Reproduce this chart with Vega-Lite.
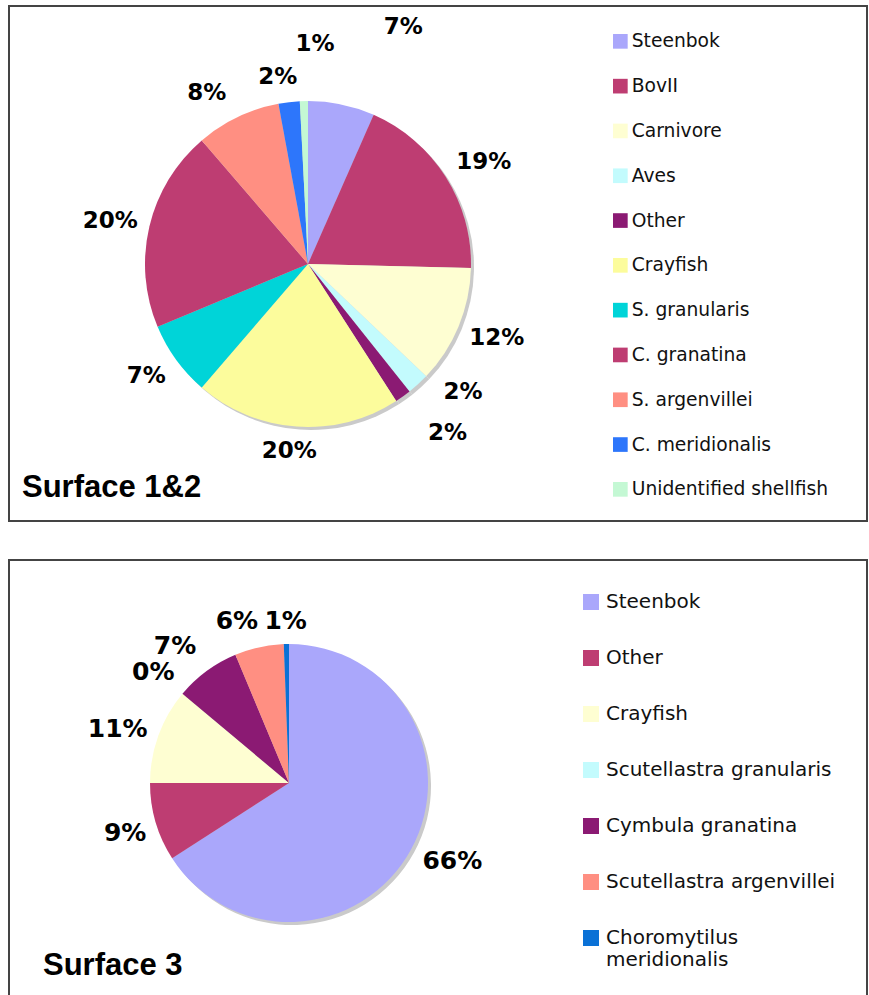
{
  "$schema": "https://vega.github.io/schema/vega-lite/v6.json",
  "padding": {"left": 8, "top": 5, "right": 0, "bottom": 0},
  "spacing": 37,
  "background": "white",
  "resolve": {"scale": {"color": "independent", "theta": "independent"}, "legend": {"color": "independent"}},
  "config": {
    "view": {"stroke": "#444444", "strokeWidth": 2},
    "font": "DejaVu Sans"
  },
  "vconcat": [
    {
      "width": 858,
      "height": 515,
      "title": {"text": "Surface 1&2", "orient": "bottom", "anchor": "start", "frame": "group", "offset": -24, "dx": 13, "baseline": "alphabetic", "font": "Liberation Sans", "fontSize": 31, "fontWeight": "bold", "color": "#000000"},
      "data": {"values": [
        {"cat": "Steenbok", "value": 6.6, "label": "7%", "idx": 1},
        {"cat": "BovII", "value": 18.8, "label": "19%", "idx": 2},
        {"cat": "Carnivore", "value": 11.7, "label": "12%", "idx": 3},
        {"cat": "Aves", "value": 2.2, "label": "2%", "idx": 4},
        {"cat": "Other", "value": 1.6, "label": "2%", "idx": 5},
        {"cat": "Crayfish", "value": 20.4, "label": "20%", "idx": 6},
        {"cat": "S. granularis", "value": 7.4, "label": "7%", "idx": 7},
        {"cat": "C. granatina", "value": 20.0, "label": "20%", "idx": 8},
        {"cat": "S. argenvillei", "value": 8.4, "label": "8%", "idx": 9},
        {"cat": "C. meridionalis", "value": 2.1, "label": "2%", "idx": 10},
        {"cat": "Unidentified shellfish", "value": 0.8, "label": "1%", "idx": 11}
      ]},
      "encoding": {
        "theta": {"field": "value", "type": "quantitative", "stack": true},
        "order": {"field": "idx", "type": "quantitative"},
        "x": {"value": 299},
        "y": {"value": 258}
      },
      "layer": [
        {"mark": {"type": "arc", "radius": 163, "xOffset": 3, "yOffset": 3, "color": "#cacaca"}},
        {
          "mark": {"type": "arc", "radius": 163},
          "encoding": {
            "color": {
              "field": "cat", "type": "nominal",
              "scale": {
                "domain": ["Steenbok", "BovII", "Carnivore", "Aves", "Other", "Crayfish", "S. granularis", "C. granatina", "S. argenvillei", "C. meridionalis", "Unidentified shellfish"],
                "range": ["#aaa7fb", "#be3d72", "#fefed2", "#c3fbfd", "#8b1a73", "#fcfc9c", "#00d4d8", "#be3d72", "#ff8f82", "#2d76fb", "#c4f8d4"]
              },
              "legend": {
                "orient": "none", "legendX": 602, "legendY": 26, "title": null, "padding": 0,
                "symbolType": "square", "symbolSize": 215, "symbolStrokeWidth": 0,
                "labelFont": "DejaVu Sans", "labelFontSize": 18.7, "labelColor": "#111111", "labelOffset": 2, "labelLimit": 400,
                "rowPadding": 24.8
              }
            }
          }
        },
        {
          "mark": {
            "type": "text", "radius": 200, "font": "DejaVu Sans", "fontWeight": "bold", "fontSize": 23, "color": "#000000",
            "dx": {"expr": "datum.cat==='Steenbok'?54:datum.cat==='BovII'?7:datum.cat==='Carnivore'?4:datum.cat==='Aves'?20:datum.cat==='Other'?23:datum.cat==='Crayfish'?-5:datum.cat==='C. granatina'?-3:datum.cat==='S. argenvillei'?-15:datum.cat==='C. meridionalis'?-7:datum.cat==='Unidentified shellfish'?12:0"},
            "dy": {"expr": "datum.cat==='Steenbok'?-41:datum.cat==='BovII'?5:datum.cat==='Carnivore'?-3:datum.cat==='Aves'?-20:datum.cat==='Other'?6:datum.cat==='Crayfish'?-13:datum.cat==='S. granularis'?-6:datum.cat==='C. granatina'?3:datum.cat==='S. argenvillei'?9:datum.cat==='C. meridionalis'?12:datum.cat==='Unidentified shellfish'?-20:0"}
          },
          "encoding": {"text": {"field": "label"}}
        }
      ]
    },
    {
      "width": 858,
      "height": 445,
      "title": {"text": "Surface 3", "orient": "bottom", "anchor": "start", "frame": "group", "offset": -30, "dx": 34, "baseline": "alphabetic", "font": "Liberation Sans", "fontSize": 31, "fontWeight": "bold", "color": "#000000"},
      "data": {"values": [
        {"cat": "Steenbok", "value": 65.9, "label": "66%", "idx": 1},
        {"cat": "Other", "value": 9.1, "label": "9%", "idx": 2},
        {"cat": "Crayfish", "value": 11.1, "label": "11%", "idx": 3},
        {"cat": "Scutellastra granularis", "value": 0, "label": "0%", "idx": 4},
        {"cat": "Cymbula granatina", "value": 7.6, "label": "7%", "idx": 5},
        {"cat": "Scutellastra argenvillei", "value": 5.7, "label": "6%", "idx": 6},
        {"cat": "Choromytilus meridionalis", "value": 0.6, "label": "1%", "idx": 7}
      ]},
      "encoding": {
        "theta": {"field": "value", "type": "quantitative", "stack": true},
        "order": {"field": "idx", "type": "quantitative"},
        "x": {"value": 280},
        "y": {"value": 223}
      },
      "layer": [
        {"mark": {"type": "arc", "radius": 139, "xOffset": 3, "yOffset": 3, "color": "#cacaca"}},
        {
          "mark": {"type": "arc", "radius": 139},
          "encoding": {
            "color": {
              "field": "cat", "type": "nominal",
              "scale": {
                "domain": ["Steenbok", "Other", "Crayfish", "Scutellastra granularis", "Cymbula granatina", "Scutellastra argenvillei", "Choromytilus meridionalis"],
                "range": ["#aaa7fb", "#be3d72", "#fefed2", "#c3fbfd", "#8b1a73", "#ff8f82", "#0a71d6"]
              },
              "legend": {
                "orient": "none", "legendX": 572, "legendY": 32, "title": null, "padding": 0,
                "symbolType": "square", "symbolSize": 256, "symbolStrokeWidth": 0,
                "labelFont": "DejaVu Sans", "labelFontSize": 20, "labelColor": "#111111", "labelOffset": 5, "labelLimit": 400,
                "rowPadding": 36,
                "labelExpr": "datum.label === 'Choromytilus meridionalis' ? ['Choromytilus', 'meridionalis'] : datum.label"
              }
            }
          }
        },
        {
          "mark": {
            "type": "text", "radius": 177, "font": "DejaVu Sans", "fontWeight": "bold", "fontSize": 25, "color": "#000000",
            "dx": {"expr": "datum.cat==='Steenbok'?8:datum.cat==='Other'?6:datum.cat==='Crayfish'?-5:datum.cat==='Cymbula granatina'?-9:datum.cat==='Scutellastra argenvillei'?-14:0"},
            "dy": {"expr": "datum.cat==='Steenbok'?-7:datum.cat==='Crayfish'?6:datum.cat==='Scutellastra granularis'?3:datum.cat==='Cymbula granatina'?6:datum.cat==='Scutellastra argenvillei'?11:datum.cat==='Choromytilus meridionalis'?15:0"}
          },
          "encoding": {"text": {"field": "label"}}
        }
      ]
    }
  ]
}
